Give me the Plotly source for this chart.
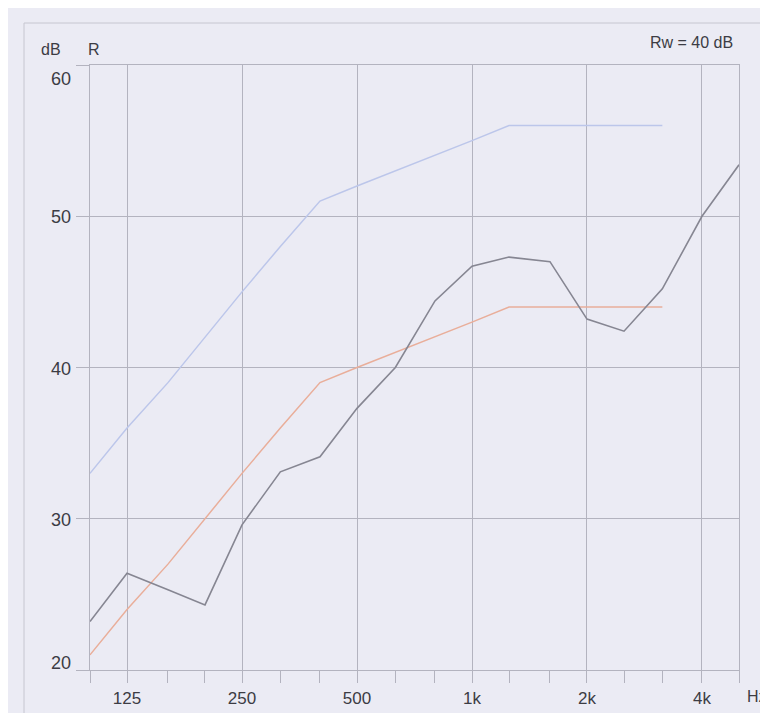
import plotly.graph_objects as go
import math

# Third-octave band centre frequencies (Hz)
freqs = [100, 125, 160, 200, 250, 315, 400, 500, 630, 800, 1000, 1250, 1600, 2000, 2500, 3150, 4000, 5000]
# Measured sound reduction index R (dB)
measured_R = [23.2, 26.4, 25.3, 24.3, 29.6, 33.1, 34.1, 37.3, 40.0, 44.4, 46.7, 47.3, 47.0, 43.2, 42.4, 45.2, 50.0, 53.4]
# Reference curve (ISO 717-1) and shifted reference curve
ref_freqs = freqs[:16]
reference_curve = [33, 36, 39, 42, 45, 48, 51, 52, 53, 54, 55, 56, 56, 56, 56, 56]
shifted_reference = [21, 24, 27, 30, 33, 36, 39, 40, 41, 42, 43, 44, 44, 44, 44, 44]
# Axis ticks
octave_ticks = [125, 250, 500, 1000, 2000, 4000]
octave_labels = ["125", "250", "500", "1k", "2k", "4k"]
y_ticks = [20, 30, 40, 50, 60]

BG = "#ebebf4"
GRID = "#b3b3bf"
TEXT = "#3c3c44"
FONT = "Liberation Sans, Arial, sans-serif"

L, R, T, B = 82, 37, 57, 51
W, H = 768, 713
PW = W - L - R
PH = H - T - B

fig = go.Figure()
fig.add_trace(go.Scatter(x=ref_freqs, y=reference_curve, mode="lines",
                         line=dict(color="#bcc6ea", width=1.5), showlegend=False))
fig.add_trace(go.Scatter(x=ref_freqs, y=shifted_reference, mode="lines",
                         line=dict(color="#e9ae9a", width=1.5), showlegend=False))
fig.add_trace(go.Scatter(x=freqs, y=measured_R, mode="lines",
                         line=dict(color="#868692", width=1.6), showlegend=False))

annotations = []
for v in y_ticks:
    ys = -1
    if v == 60:
        ys = -14
    elif v == 20:
        ys = 7
    annotations.append(dict(text=str(v), xref="paper", x=0, xshift=-17, xanchor="right",
                            yref="y", y=v, yshift=ys, yanchor="middle", showarrow=False,
                            font=dict(size=18, color=TEXT, family=FONT)))
annotations += [
    dict(text="dB", xref="paper", x=0, xshift=-51, xanchor="left", yref="paper", y=1,
         yshift=16, yanchor="middle", showarrow=False, font=dict(size=16, color=TEXT, family=FONT)),
    dict(text="R", xref="paper", x=0, xshift=-4, xanchor="left", yref="paper", y=1,
         yshift=16, yanchor="middle", showarrow=False, font=dict(size=16, color=TEXT, family=FONT)),
    dict(text="Rw = 40 dB", xref="paper", x=1, xshift=-4, xanchor="right", yref="paper", y=1,
         yshift=23, yanchor="middle", showarrow=False, font=dict(size=16, color=TEXT, family=FONT)),
    dict(text="Hz", xref="paper", x=1, xshift=6, xanchor="left", yref="paper", y=0,
         yshift=-26, yanchor="middle", showarrow=False, font=dict(size=16, color=TEXT, family=FONT)),
]

fig.update_layout(
    width=W, height=H,
    margin=dict(l=L, r=R, t=T, b=B),
    paper_bgcolor=BG, plot_bgcolor=BG,
    showlegend=False,
    annotations=annotations,
    shapes=[dict(type="rect", xref="paper", yref="paper",
                 x0=(16 - L) / PW, x1=(775 - L) / PW,
                 y0=(H - B - 709) / PH, y1=(H - B - 15) / PH,
                 line=dict(color="#c6c6d0", width=1))],
    xaxis=dict(type="log", range=[math.log10(100), math.log10(5000)],
               tickvals=octave_ticks, ticktext=octave_labels,
               ticks="outside", ticklen=12, tickcolor=GRID, tickwidth=1.2,
               tickfont=dict(size=17, color=TEXT, family=FONT),
               showgrid=True, gridcolor=GRID, gridwidth=1.2,
               showline=True, mirror=True, linecolor=GRID, linewidth=1.3,
               zeroline=False,
               minor=dict(tickvals=freqs, ticks="outside", ticklen=12, tickcolor=GRID,
                          tickwidth=1.2, showgrid=False)),
    yaxis=dict(range=[20, 60], tickvals=y_ticks, showticklabels=False,
               ticks="outside", ticklen=13, tickcolor=GRID, tickwidth=1.2,
               showgrid=True, gridcolor=GRID, gridwidth=1.2,
               showline=True, mirror=True, linecolor=GRID, linewidth=1.3,
               zeroline=False),
)

fig.write_html("out.html")
